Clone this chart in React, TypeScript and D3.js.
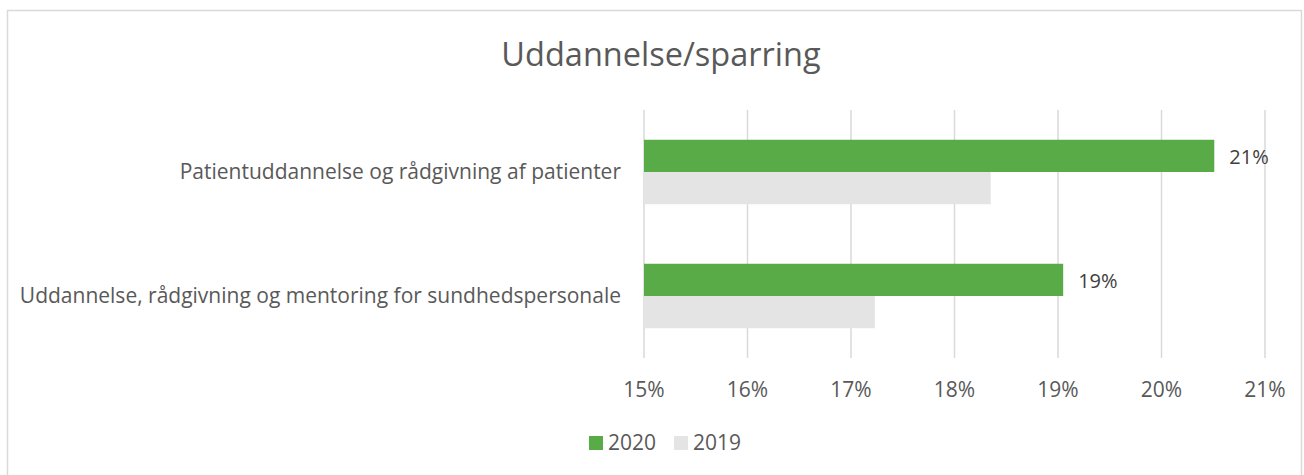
import React, { useEffect, useRef } from 'react';
import * as d3 from 'd3';

const categories = [
  'Patientuddannelse og rådgivning af patienter',
  'Uddannelse, rådgivning og mentoring for sundhedspersonale',
];
const series = ['2020', '2019'];
const values2020 = [20.51, 19.05];
const values2019 = [18.35, 17.23];
const dataLabels2020 = ['21%', '19%'];
const tickValues = [15, 16, 17, 18, 19, 20, 21];

const colors: Record<string, string> = { '2020': '#58AB47', '2019': '#E4E4E4' };
const font = '"Open Sans", sans-serif';
const textColor = '#595959';

export default function App() {
  const ref = useRef<SVGSVGElement>(null);

  useEffect(() => {
    document.body.style.margin = '0';
    const svg = d3.select(ref.current);
    svg.selectAll('*').remove();

    const left = 644, right = 1265, top = 110, bottom = 358;

    svg.append('rect')
      .attr('x', 7.5).attr('y', 10.5)
      .attr('width', 1294).attr('height', 480)
      .attr('fill', '#fff')
      .attr('stroke', '#D9D9D9').attr('stroke-width', 1.5);

    svg.append('text')
      .attr('x', 661).attr('y', 66)
      .attr('text-anchor', 'middle')
      .style('font-family', font).style('font-size', '32.5px')
      .attr('fill', textColor)
      .text('Uddannelse/sparring');

    const x = d3.scaleLinear().domain([15, 21]).range([left, right]);
    const y = d3.scaleBand().domain(categories).range([top, bottom]).paddingInner(0.48).paddingOuter(0.24);
    const ySub = d3.scaleBand().domain(series).range([0, y.bandwidth()]);

    // gridlines
    svg.append('g').selectAll('line').data(tickValues).enter().append('line')
      .attr('x1', (d) => x(d)).attr('x2', (d) => x(d))
      .attr('y1', top).attr('y2', bottom)
      .attr('stroke', '#D9D9D9').attr('stroke-width', 1.5);

    // tick labels
    svg.append('g').selectAll('text').data(tickValues).enter().append('text')
      .attr('x', (d) => x(d)).attr('y', 397)
      .attr('text-anchor', 'middle')
      .style('font-family', font).style('font-size', '21px')
      .attr('fill', textColor)
      .text((d) => d + '%');

    // category labels
    svg.append('g').selectAll('text').data(categories).enter().append('text')
      .attr('x', left - 23)
      .attr('y', (d) => (y(d) as number) + y.bandwidth() / 2 + 7)
      .attr('text-anchor', 'end')
      .style('font-family', font).style('font-size', '21px')
      .attr('fill', textColor)
      .text((d) => d);

    const rows = categories.map((c, i) => ({ c, i, v: { '2020': values2020[i], '2019': values2019[i] } as Record<string, number> }));
    const g = svg.append('g');
    series.slice().reverse().forEach((s) => {
      g.selectAll('rect.s' + s).data(rows).enter().append('rect')
        .attr('x', x(15))
        .attr('y', (d) => (y(d.c) as number) + (ySub(s) as number))
        .attr('width', (d) => x(d.v[s]) - x(15))
        .attr('height', ySub.bandwidth())
        .attr('fill', colors[s]);
    });

    g.selectAll('text.lbl').data(rows).enter().append('text')
      .attr('x', (d) => x(d.v['2020']) + 15)
      .attr('y', (d) => (y(d.c) as number) + (ySub('2020') as number) + ySub.bandwidth() / 2 + 8)
      .style('font-family', font).style('font-size', '20px')
      .attr('fill', '#404040')
      .text((d) => dataLabels2020[d.i]);

    // legend
    const legendX = [589, 674];
    series.forEach((s, i) => {
      svg.append('rect')
        .attr('x', legendX[i]).attr('y', 436)
        .attr('width', 14).attr('height', 14)
        .attr('fill', colors[s]);
      svg.append('text')
        .attr('x', legendX[i] + 19).attr('y', 450)
        .style('font-family', font).style('font-size', '21px')
        .attr('fill', textColor)
        .text(s);
    });
  }, []);

  return <svg ref={ref} width={1304} height={475} style={{ display: 'block' }} />;
}
